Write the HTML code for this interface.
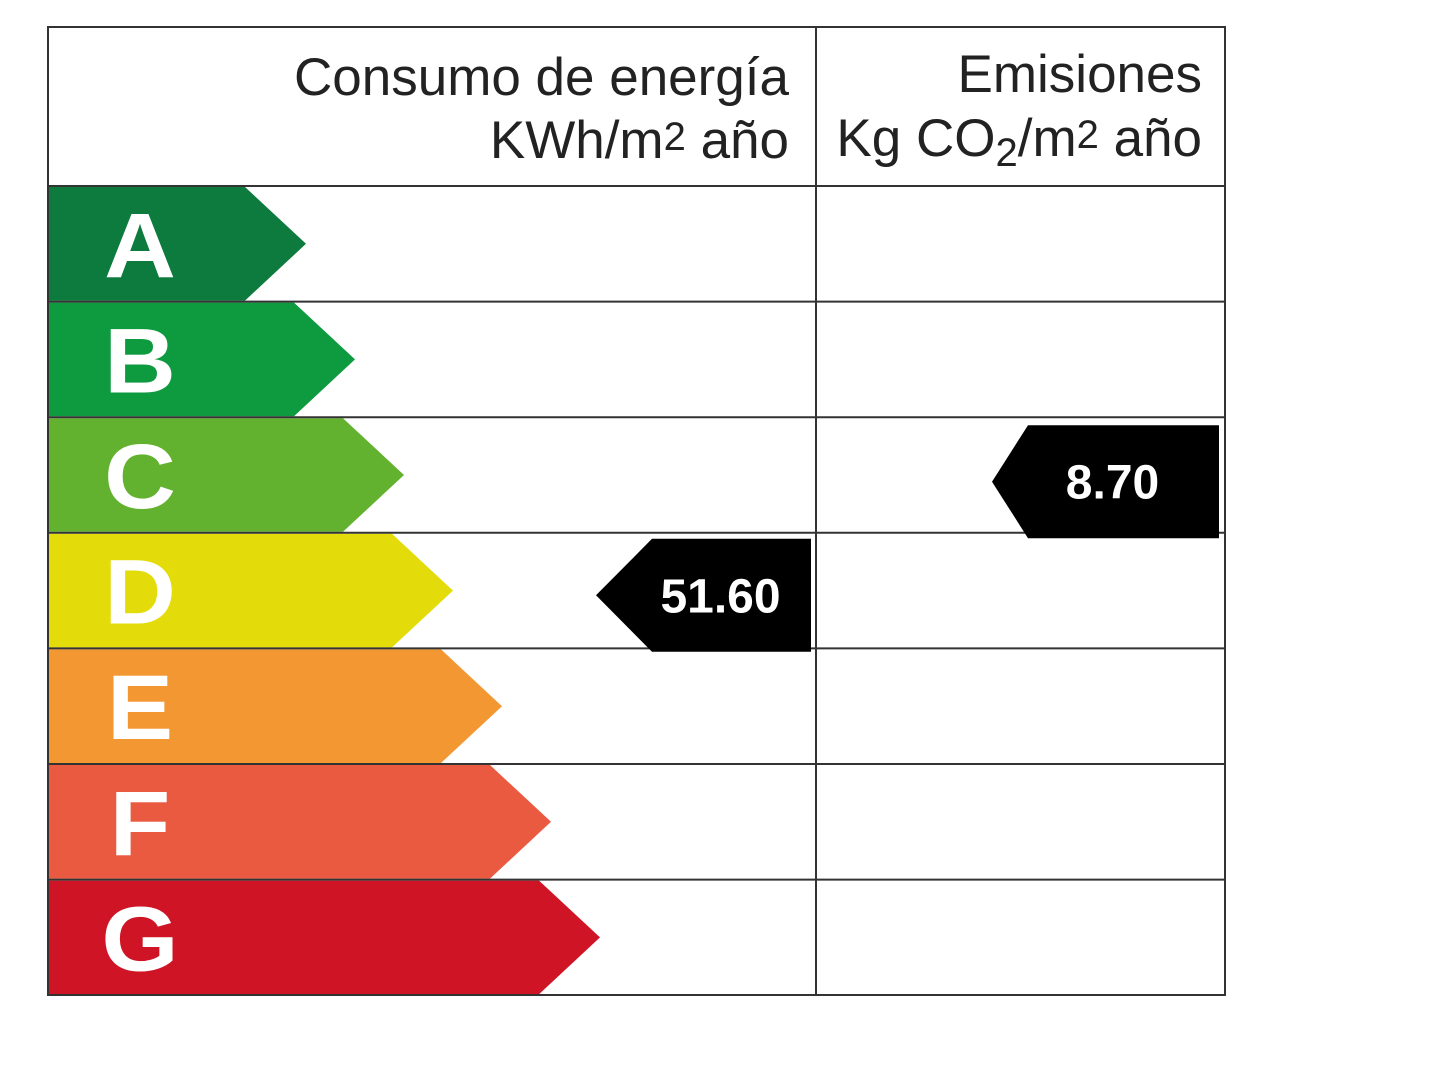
<!DOCTYPE html>
<html><head><meta charset="utf-8"><style>
body{margin:0;width:1440px;height:1080px;background:#fff;overflow:hidden}
svg{display:block}
</style></head><body>
<svg id="chart" width="1440" height="1080" viewBox="0 0 1440 1080" font-family="Liberation Sans, sans-serif"></svg>
<script>
const classes=['A','B','C','D','E','F','G'];
const classColors=['#0d7a3e','#0e9a3e','#63b22f','#e3dc0a','#f39733','#e95a40','#cf1426'];
const energyValue='51.60';
const energyClass='D';
const emissionValue='8.70';
const emissionClass='C';

const NS='http://www.w3.org/2000/svg';
const svg=document.getElementById('chart');
function mk(t,a){const e=document.createElementNS(NS,t);for(const k in a)e.setAttribute(k,a[k]);svg.appendChild(e);return e;}
const L=48,R=1225,M=816,T=27,H0=186,rowH=115.6;
const rowY=i=>H0+i*rowH;
classes.forEach((c,i)=>{
  const y0=rowY(i)+1,y1=rowY(i+1)-1,xr=245+49*i,tip=xr+61;
  const p=mk('polygon',{points:`${L},${y0} ${xr},${y0} ${tip},${(y0+y1)/2} ${xr},${y1} ${L},${y1}`,fill:classColors[i]});
  
  
  const t=mk('text',{x:140,y:(y0+y1)/2+33,'font-size':92,'font-weight':'bold',fill:'#fff','text-anchor':'middle',transform:`translate(140 0) scale(1.08 1) translate(-140 0)`});
  t.textContent=c;
  
  
});
for(let i=1;i<classes.length;i++){const l=mk('line',{x1:L,x2:R,y1:rowY(i),y2:rowY(i),stroke:'#333','stroke-width':2});}
const hl=mk('line',{x1:L,x2:R,y1:H0,y2:H0,stroke:'#333','stroke-width':2});
const cl=mk('line',{x1:M,x2:M,y1:T,y2:995,stroke:'#333','stroke-width':2});
const fr=mk('rect',{x:L,y:T,width:R-L,height:995-T,fill:'none',stroke:'#333','stroke-width':2});
function htxt(x,y,html,name){const t=mk('text',{x:x,y:y,'font-size':53,fill:'#222','text-anchor':'end'});t.innerHTML=html;}
htxt(789,95,'Consumo de energía','energy-header-line1');
htxt(789,158,'KWh/m<tspan font-size="40" dy="-8">2</tspan><tspan dy="8"> año</tspan>','energy-header-line2');
htxt(1202,92,'Emisiones','emission-header-line1');
htxt(1202,156,'Kg CO<tspan font-size="40" dy="10">2</tspan><tspan dy="-10">/m</tspan><tspan font-size="40" dy="-8">2</tspan><tspan dy="8"> año</tspan>','emission-header-line2');
function marker(val,cls,xEnd,w,tipLen,dy,name){
  const i=classes.indexOf(cls);const y0=rowY(i)+dy,y1=y0+113,xs=xEnd-w,tip=xs-tipLen;
  const p=mk('polygon',{points:`${tip},${(y0+y1)/2} ${xs},${y0} ${xEnd},${y0} ${xEnd},${y1} ${xs},${y1}`,fill:'#000'});
  
  const t=mk('text',{x:(xs+xEnd)/2-11,y:(y0+y1)/2+17,'font-size':48,'font-weight':'bold',fill:'#fff','text-anchor':'middle'});
  t.textContent=val;
}
marker(energyValue,energyClass,811,159,56,6,'energy');
marker(emissionValue,emissionClass,1219,191,36,8,'emission');
</script>
</body></html>
